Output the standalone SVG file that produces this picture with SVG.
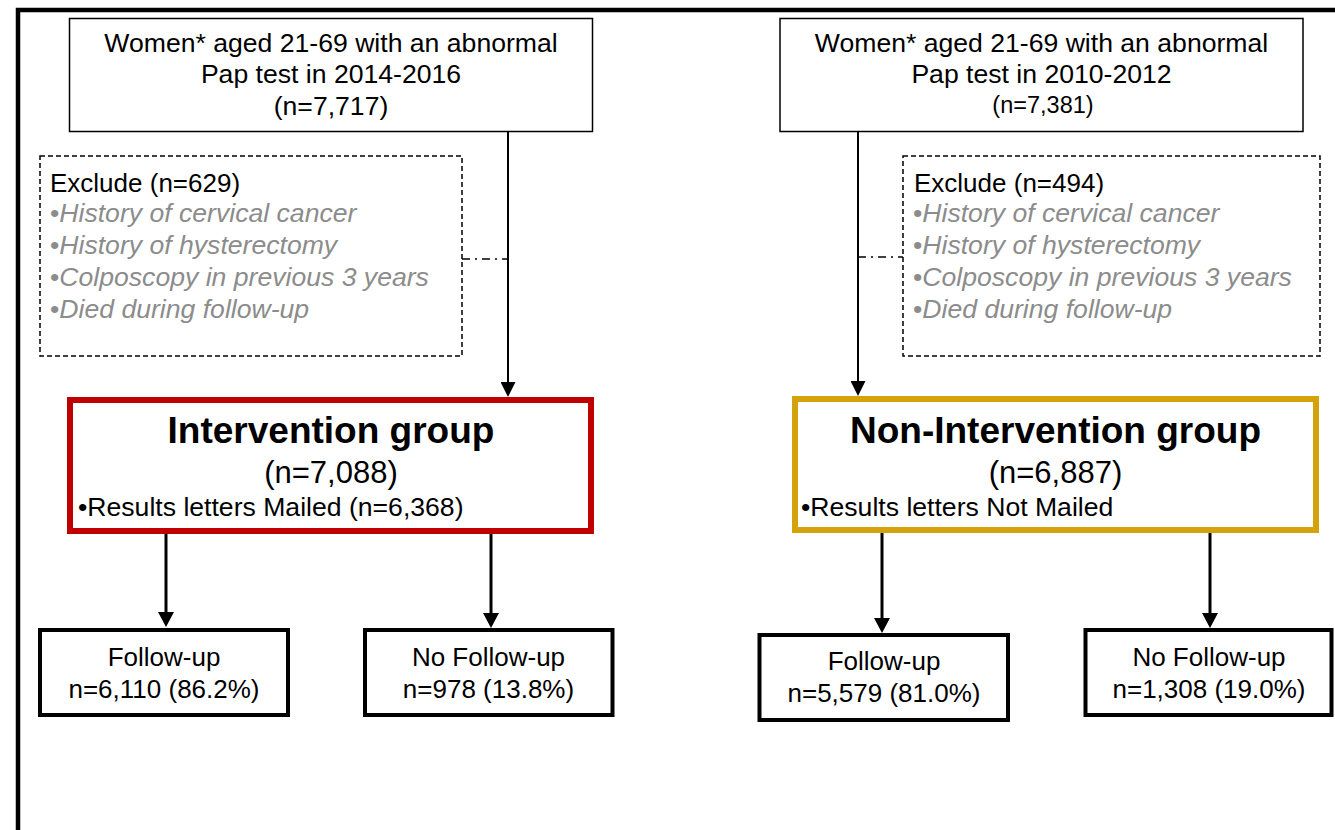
<svg xmlns="http://www.w3.org/2000/svg" width="1335" height="830" viewBox="0 0 1335 830">
<defs>
<style>
text{font-family:"Liberation Sans",Arial,sans-serif;fill:#000}
.t26{font-size:26px}
.t265{font-size:26.6px}
.c{text-anchor:middle}
.grey{fill:#8c8c8c;font-style:italic}
.bul{font-style:normal}
.box{fill:#fff;stroke:#000;stroke-width:1.5}
.dash{fill:none;stroke:#000;stroke-width:1.5;stroke-dasharray:5,3}
.fb{fill:#fff;stroke:#000;stroke-width:4}
.thin{stroke:#000;stroke-width:2;fill:none}
.thick{stroke:#000;stroke-width:3;fill:none}
.dd{stroke:#000;stroke-width:1.5;fill:none;stroke-dasharray:8,5,2,5}
.h{font-size:37px;font-weight:bold}
.n{font-size:31px}
</style>
<marker id="ah" markerUnits="userSpaceOnUse" markerWidth="15" markerHeight="15" refX="0" refY="7.5" orient="auto" viewBox="0 0 15 15">
<path d="M0,0 L15,7.5 L0,15 z" fill="#000"/>
</marker>
<marker id="ah2" markerUnits="userSpaceOnUse" markerWidth="15" markerHeight="16" refX="0" refY="8" orient="auto" viewBox="0 0 15 16">
<path d="M0,0 L15,8 L0,16 z" fill="#000"/>
</marker>
</defs>
<rect width="1335" height="830" fill="#fff"/>
<path d="M18,835 V10 H1340" fill="none" stroke="#000" stroke-width="4.5"/>

<g id="connectors">
<line class="thin" x1="508" y1="132" x2="508" y2="382" marker-end="url(#ah)"/>
<line class="thin" x1="858" y1="132" x2="858" y2="381" marker-end="url(#ah)"/>
<line class="dd" x1="462" y1="259" x2="508" y2="259"/>
<line class="dd" x1="858" y1="257" x2="903" y2="257"/>
<line class="thick" x1="166" y1="534" x2="166" y2="612" marker-end="url(#ah2)"/>
<line class="thick" x1="491" y1="534" x2="491" y2="613" marker-end="url(#ah2)"/>
<line class="thick" x1="882" y1="533" x2="882" y2="618" marker-end="url(#ah2)"/>
<line class="thick" x1="1210" y1="533" x2="1210" y2="613" marker-end="url(#ah2)"/>
</g>

<g id="start-left">
<rect class="box" x="69.5" y="18.5" width="523" height="113"/>
<text class="t265 c" x="331" y="52">Women* aged 21-69 with an abnormal</text>
<text class="t265 c" x="331" y="83">Pap test in 2014-2016</text>
<text class="t265 c" x="331" y="115">(n=7,717)</text>
</g>

<g id="start-right">
<rect class="box" x="780" y="18.5" width="523" height="113"/>
<text class="t265 c" x="1041.5" y="52">Women* aged 21-69 with an abnormal</text>
<text class="t265 c" x="1041.5" y="83">Pap test in 2010-2012</text>
<text class="c" x="1043" y="113" font-size="23.5">(n=7,381)</text>
</g>

<g id="exclude-left">
<rect class="dash" x="40" y="156" width="422" height="200"/>
<text class="t26" x="50" y="192">Exclude (n=629)</text>
<text class="t265 grey" x="50" y="222"><tspan class="bul">•</tspan>History of cervical cancer</text>
<text class="t265 grey" x="50" y="254"><tspan class="bul">•</tspan>History of hysterectomy</text>
<text class="t265 grey" x="50" y="286"><tspan class="bul">•</tspan>Colposcopy in previous 3 years</text>
<text class="t265 grey" x="50" y="318"><tspan class="bul">•</tspan>Died during follow-up</text>
</g>

<g id="exclude-right">
<rect class="dash" x="903" y="156" width="417" height="200"/>
<text class="t26" x="914" y="192">Exclude (n=494)</text>
<text class="t265 grey" x="913" y="222"><tspan class="bul">•</tspan>History of cervical cancer</text>
<text class="t265 grey" x="913" y="254"><tspan class="bul">•</tspan>History of hysterectomy</text>
<text class="t265 grey" x="913" y="286"><tspan class="bul">•</tspan>Colposcopy in previous 3 years</text>
<text class="t265 grey" x="913" y="318"><tspan class="bul">•</tspan>Died during follow-up</text>
</g>

<g id="intervention">
<rect x="70" y="400" width="521" height="131" fill="#fff" stroke="#C00000" stroke-width="6"/>
<text class="c h" x="331" y="443">Intervention group</text>
<text class="c n" x="331" y="483">(n=7,088)</text>
<text class="t265" x="78" y="516">•Results letters Mailed (n=6,368)</text>
</g>

<g id="non-intervention">
<rect x="795" y="399" width="521" height="131" fill="#fff" stroke="#D4A20A" stroke-width="6"/>
<text class="c h" x="1055.5" y="443">Non-Intervention group</text>
<text class="c n" x="1055.5" y="483">(n=6,887)</text>
<text class="t265" x="801" y="516">•Results letters Not Mailed</text>
</g>

<g id="followup-left">
<rect class="fb" x="40" y="630" width="248" height="85"/>
<text class="t26 c" x="164" y="666">Follow-up</text>
<text class="t26 c" x="164" y="698">n=6,110 (86.2%)</text>
</g>

<g id="nofollowup-left">
<rect class="fb" x="365" y="630" width="247.5" height="85" stroke="#262450"/>
<text class="t26 c" x="488.5" y="666">No Follow-up</text>
<text class="t26 c" x="488.5" y="698">n=978 (13.8%)</text>
</g>

<g id="followup-right">
<rect class="fb" x="759.5" y="635" width="248.5" height="85"/>
<text class="t26 c" x="884" y="670">Follow-up</text>
<text class="t26 c" x="884" y="702">n=5,579 (81.0%)</text>
</g>

<g id="nofollowup-right">
<rect class="fb" x="1085.5" y="630" width="246" height="85"/>
<text class="t26 c" x="1209" y="666">No Follow-up</text>
<text class="t26 c" x="1209" y="698">n=1,308 (19.0%)</text>
</g>
</svg>
